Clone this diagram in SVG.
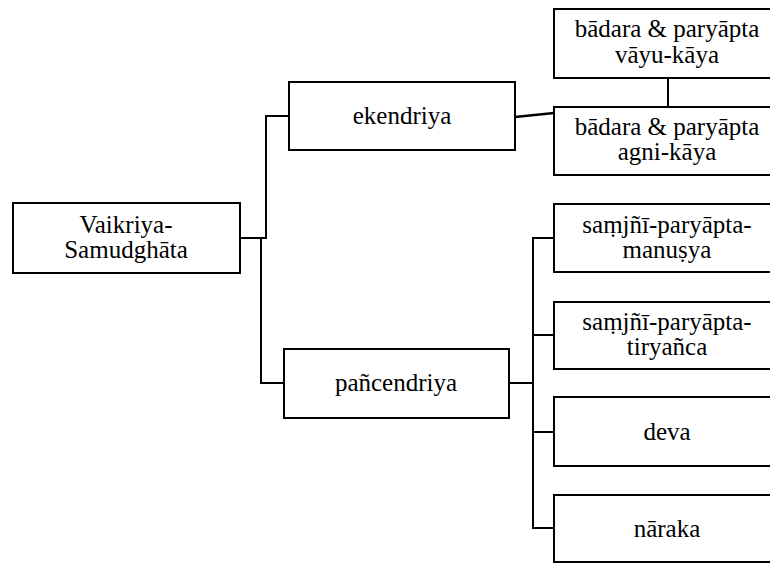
<svg xmlns="http://www.w3.org/2000/svg" width="770" height="563" viewBox="0 0 770 563">
<style>
.box{fill:#fff;stroke:#000;stroke-width:2}
.c{fill:none;stroke:#000;stroke-width:2}
</style>
<rect width="770" height="563" fill="#fff"/>
<g id="connectors">
<polyline class="c" points="240,238 266,238 266,116 289,116"/>
<polyline class="c" points="261,238 261,383 284,383"/>
<polyline class="c" style="stroke-width:2.6" points="515,117 554,113"/>
<line class="c" x1="668" y1="78" x2="668" y2="107"/>
<line class="c" x1="509" y1="383" x2="533" y2="383"/>
<polyline class="c" points="554,238 533,238 533,528 554,528"/>
<line class="c" x1="533" y1="335" x2="554" y2="335"/>
<line class="c" x1="533" y1="432" x2="554" y2="432"/>
</g>
<g id="root">
<rect class="box" x="13" y="203" width="227" height="70"/>
<text x="126" y="233" font-family="Liberation Serif" font-size="25" text-anchor="middle">Vaikriya-</text>
<text x="126" y="258" font-family="Liberation Serif" font-size="25" text-anchor="middle">Samudghāta</text>
</g>
<g id="ekendriya">
<rect class="box" x="289" y="82" width="226" height="68"/>
<text x="402" y="124" font-family="Liberation Serif" font-size="25" text-anchor="middle">ekendriya</text>
</g>
<g id="pancendriya">
<rect class="box" x="284" y="349" width="225" height="69"/>
<text x="396" y="391" font-family="Liberation Serif" font-size="25" text-anchor="middle">pañcendriya</text>
</g>
<g id="vayu">
<rect class="box" x="554" y="9" width="226" height="69"/>
<text x="667" y="37" font-family="Liberation Serif" font-size="25" text-anchor="middle">bādara &amp; paryāpta</text>
<text x="667" y="63" font-family="Liberation Serif" font-size="25" text-anchor="middle">vāyu-kāya</text>
</g>
<g id="agni">
<rect class="box" x="554" y="107" width="226" height="68"/>
<text x="667" y="135" font-family="Liberation Serif" font-size="25" text-anchor="middle">bādara &amp; paryāpta</text>
<text x="667" y="160" font-family="Liberation Serif" font-size="25" text-anchor="middle">agni-kāya</text>
</g>
<g id="manusya">
<rect class="box" x="554" y="204" width="226" height="68"/>
<text x="667" y="233" font-family="Liberation Serif" font-size="25" text-anchor="middle">saṃjñī-paryāpta-</text>
<text x="667" y="258" font-family="Liberation Serif" font-size="25" text-anchor="middle">manuṣya</text>
</g>
<g id="tiryanca">
<rect class="box" x="554" y="302" width="226" height="67"/>
<text x="667" y="330" font-family="Liberation Serif" font-size="25" text-anchor="middle">saṃjñī-paryāpta-</text>
<text x="667" y="355" font-family="Liberation Serif" font-size="25" text-anchor="middle">tiryañca</text>
</g>
<g id="deva">
<rect class="box" x="554" y="397" width="226" height="69"/>
<text x="667" y="440" font-family="Liberation Serif" font-size="25" text-anchor="middle">deva</text>
</g>
<g id="naraka">
<rect class="box" x="554" y="495" width="226" height="67"/>
<text x="667" y="537" font-family="Liberation Serif" font-size="25" text-anchor="middle">nāraka</text>
</g>
</svg>
